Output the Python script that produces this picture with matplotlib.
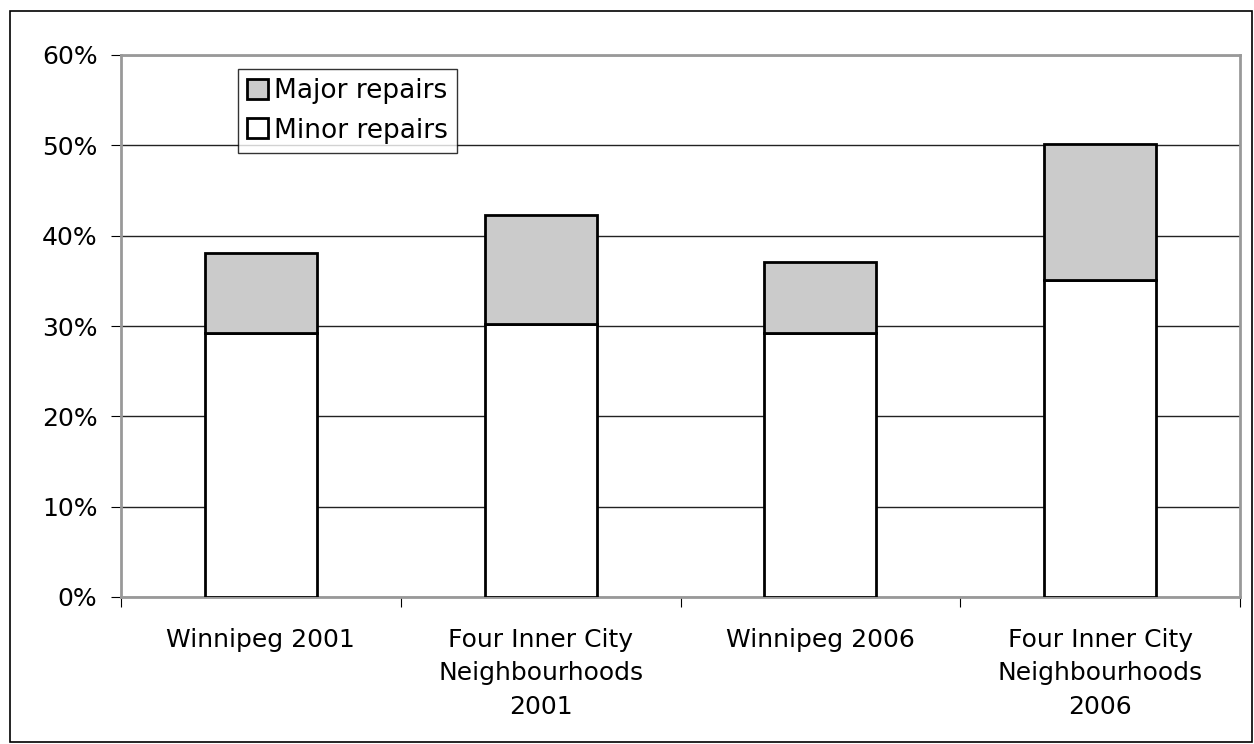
import matplotlib.pyplot as plt
import numpy as np
from matplotlib.patches import Rectangle

# ---------------- data ----------------
categories = ["Winnipeg 2001", "Four Inner City\nNeighbourhoods\n2001",
              "Winnipeg 2006", "Four Inner City\nNeighbourhoods\n2006"]
minor_repairs = [29.2, 30.2, 29.2, 35.1]
major_repairs = [8.9, 12.1, 7.9, 15.1]
yticks = [0, 10, 20, 30, 40, 50, 60]

FS = 18

fig = plt.figure(figsize=(12.54, 7.44), dpi=100)
ax = fig.add_axes([121 / 1254, 1 - 597 / 744, (1240 - 121) / 1254, (597 - 55) / 744])

# outer frame around whole figure
fig.patches.append(Rectangle((10 / 1254, 2 / 744), 1242 / 1254, 731 / 744,
                             transform=fig.transFigure, fill=False,
                             edgecolor="black", linewidth=1.2))

x = np.arange(len(categories))
ax.bar(x, minor_repairs, width=0.4, color="white", edgecolor="black",
       linewidth=2, label="Minor repairs", zorder=3)
ax.bar(x, major_repairs, width=0.4, bottom=minor_repairs, color="#cbcbcb",
       edgecolor="black", linewidth=2, label="Major repairs", zorder=3)

ax.set_xlim(-0.5, len(categories) - 0.5)
ax.set_ylim(0, 60)
ax.set_yticks(yticks)
ax.set_yticklabels([str(t) + "%" for t in yticks], fontsize=FS)
ax.yaxis.grid(True, color="#222222", linewidth=1, zorder=0)

# category labels between boundary ticks
ax.set_xticks(np.arange(-0.5, len(categories)))
ax.set_xticklabels([])
ax.set_xticks(x, minor=True)
ax.set_xticklabels(categories, minor=True, fontsize=FS, linespacing=1.5)
ax.tick_params(axis="x", which="minor", length=0, pad=22)
ax.tick_params(axis="x", which="major", length=7, direction="out")
ax.tick_params(axis="y", length=7, direction="out", pad=10)

for s in ax.spines.values():
    s.set_color("#999999")
    s.set_linewidth(2)

handles, labels = ax.get_legend_handles_labels()
leg = ax.legend(handles[::-1], labels[::-1], loc="upper left",
                bbox_to_anchor=(0.1046, 0.974), fontsize=19, frameon=True,
                fancybox=False, edgecolor="black", borderpad=0.35,
                handlelength=0.8, handleheight=0.8, handletextpad=0.2,
                labelspacing=0.5, borderaxespad=0)
leg.get_frame().set_linewidth(1)

fig.savefig("out.png", dpi=100)
